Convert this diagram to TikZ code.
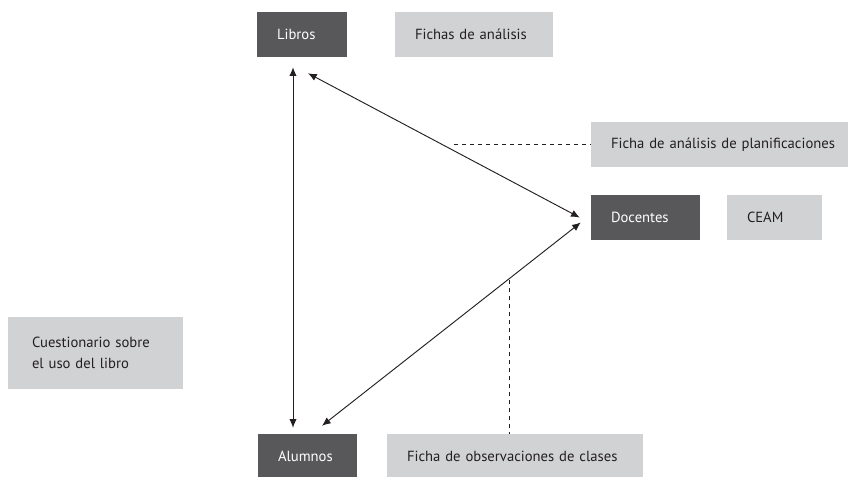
\documentclass[tikz,border=0pt]{standalone}
\usepackage{fontspec}
\setmainfont{PT Sans}
\usepackage{xcolor}
\usepackage{tikz}
\usetikzlibrary{arrows.meta}
\definecolor{boxdark}{RGB}{88,88,90}
\definecolor{boxlight}{RGB}{209,210,212}
\definecolor{textdark}{RGB}{35,31,32}
\hyphenpenalty=10000
\hbadness=10000
\hfuzz=30pt

\begin{document}
\begin{tikzpicture}[x=0.75pt, y=-0.75pt, >={Latex[length=6.5pt,width=5.5pt]}]
    % Define styles
    \tikzstyle{actor} = [rectangle, inner xsep=15pt, inner ysep=0pt, minimum height=33.75pt, align=left, fill=boxdark, text=white, font=\fontsize{11}{16}\selectfont]
    \tikzstyle{instrument} = [rectangle, inner xsep=15pt, inner ysep=0pt, minimum height=33.75pt, align=left, fill=boxlight, text=textdark, font=\fontsize{11}{16}\selectfont]
    \tikzstyle{oneline} = [execute at begin node=\hbox\bgroup, execute at end node=\egroup]
    \tikzstyle{link} = [<->, line width=0.7pt, textdark]
    \tikzstyle{guide} = [dashed, line width=0.7pt, textdark]

    \useasboundingbox (0,0) rectangle (849,476);

    % Actors
    \node [actor, oneline, text width=37.5pt] (libros) at (302,34.5) {Libros};
    \node [actor, oneline, text width=51.75pt] (docentes) at (645.5,217.5) {Docentes};
    \node [actor, oneline, text width=44.25pt] (alumnos) at (307.5,456.5) {Alumnos};

    % Instruments
    \node [instrument, oneline, text width=88.5pt] (fichas_analisis) at (474,34.5) {Fichas de análisis};
    \node [instrument, oneline, text width=162.75pt] (ficha_plan) at (719.5,144.5) {Ficha de análisis de planificaciones};
    \node [instrument, oneline, text width=41.25pt] (ceam) at (774.5,217.5) {CEAM};
    \node [instrument, inner xsep=18pt, text width=95.25pt, minimum height=54pt] (cuestionario) at (95.5,353) {Cuestionario sobre\\el uso del libro};
    \node [instrument, oneline, text width=162pt] (ficha_obs) at (515,456.5) {Ficha de observaciones de clases};

    % Relations between actors
    \draw [link] ([shift={(-9,10)}]libros.south) -- ([shift={(-14.5,-6)}]alumnos.north);
    \draw [link] ([shift={(6,16)}]libros.south) -- ([shift={(-11,0)}]docentes.west);
    \draw [link] ([shift={(-10,5)}]docentes.west) -- ([shift={(14.5,-8)}]alumnos.north);

    % Instruments attached to relations
    \coordinate (plan_join) at (454,144.5);
    \coordinate (obs_join) at (509,280);
    \draw [guide] (plan_join) -- (ficha_plan.west);
    \draw [guide] (obs_join) -- (obs_join |- ficha_obs.north);
\end{tikzpicture}
\end{document}
